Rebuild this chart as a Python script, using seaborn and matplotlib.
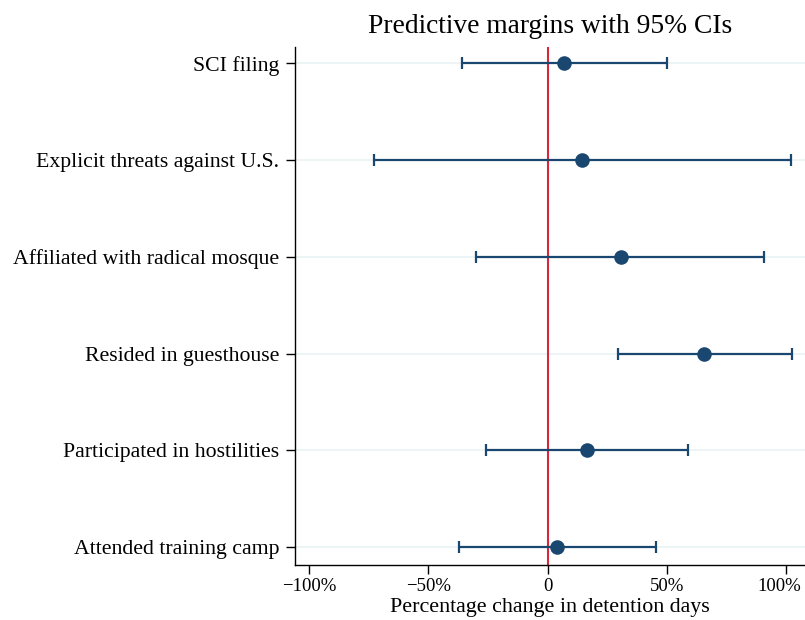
import numpy as np
import pandas as pd
import seaborn as sns
import matplotlib.pyplot as plt
import matplotlib.transforms as mtransforms

# Data
labels = ['SCI filing', 'Explicit threats against U.S.', 'Affiliated with radical mosque',
          'Resided in guesthouse', 'Participated in hostilities', 'Attended training camp']
estimate = [6.7, 14.3, 30.6, 65.8, 16.4, 3.8]
ci_low = [-36.0, -73.0, -30.0, 29.4, -26.0, -37.3]
ci_high = [50.0, 102.0, 91.0, 102.7, 58.7, 45.3]
xticks = [-100, -50, 0, 50, 100]
xtick_labels = ['\u2212100%', '\u221250%', '0', '50%', '100%']

navy = '#1a476f'

df = pd.DataFrame({'label': labels, 'est': estimate, 'lo': ci_low, 'hi': ci_high})
df['pos'] = np.arange(len(df))[::-1]

sns.set_theme(style='white')
plt.rcParams['font.family'] = ['Liberation Serif', 'DejaVu Serif']
plt.rcParams['text.color'] = 'black'
plt.rcParams['axes.labelcolor'] = 'black'
plt.rcParams['xtick.color'] = 'black'
plt.rcParams['ytick.color'] = 'black'

fig = plt.figure(figsize=(8.05, 6.2), dpi=100)
ax = fig.add_axes([0.3665, 0.0887, 0.6335, 0.835])

# light horizontal grid lines
for p in df['pos']:
    ax.axhline(p, color='#eaf2f3', lw=1.2, zorder=0)

ax.axvline(0, color='#d7263d', lw=1.5, zorder=1)

ax.errorbar(df['est'], df['pos'],
            xerr=[df['est'] - df['lo'], df['hi'] - df['est']],
            fmt='none', ecolor=navy, elinewidth=1.6, capsize=4.5, capthick=1.6, zorder=2)
sns.scatterplot(data=df, x='est', y='pos', color=navy, s=110, edgecolor=navy,
                linewidth=0, ax=ax, zorder=3)

ax.set_xlim(-106, 108)
ax.set_ylim(-0.186, 5.165)
ax.set_xticks(xticks)
ax.set_xticklabels(xtick_labels, fontsize=13.5)
ax.set_yticks(df['pos'])
ax.set_yticklabels(df['label'], fontsize=15.7)
ax.tick_params(axis='y', direction='out', length=6.5, width=1, left=True, pad=5)
ax.tick_params(axis='x', direction='out', length=6.5, width=1, bottom=True, pad=3)

# nudge the last x label inwards so it stays inside the figure
last = ax.get_xticklabels()[-1]
last.set_transform(last.get_transform() + mtransforms.ScaledTranslation(-7 / 100, 0, fig.dpi_scale_trans))

for s in ['top', 'right']:
    ax.spines[s].set_visible(False)
for s in ['left', 'bottom']:
    ax.spines[s].set_color('black')
    ax.spines[s].set_linewidth(1)

ax.set_xlabel('Percentage change in detention days', fontsize=15.8, labelpad=2)
ax.set_ylabel('')
fig.text(0.684, 0.957, 'Predictive margins with 95% CIs', fontsize=19.8,
         ha='center', va='center')

fig.savefig('out.png', dpi=100)
